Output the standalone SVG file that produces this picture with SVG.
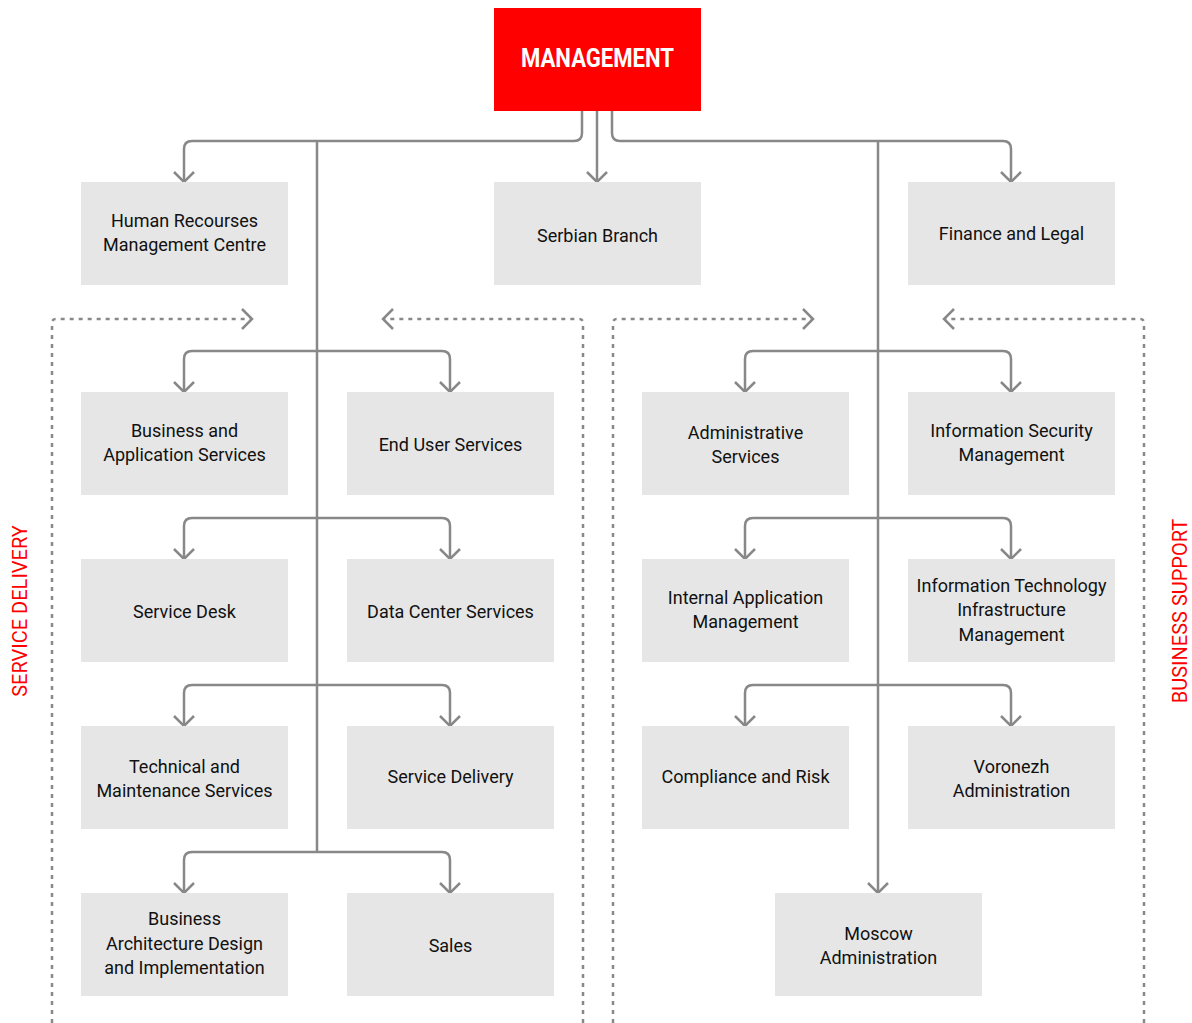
<svg xmlns="http://www.w3.org/2000/svg" width="1192" height="1023" viewBox="0 0 1192 1023">
<defs>
<style>
.box{fill:#e6e6e6}
.t{font-family:Roboto,"Liberation Sans",sans-serif;font-size:18px;fill:#111;text-anchor:middle}
.c{fill:none;stroke:#888;stroke-width:2.5;stroke-linejoin:round}
.d{fill:none;stroke:#888;stroke-width:2.5;stroke-dasharray:4 5}
.side{font-family:Roboto,"Liberation Sans",sans-serif;font-size:20px;fill:#ff0000;text-anchor:middle}
</style>
</defs>
<rect width="1192" height="1023" fill="#fff"/>
<g id="connectors">
<path class="c" d="M582,111 V133 Q582,141 574,141 H192 Q184,141 184,149 V181"/>
<path class="c" d="M597,111 V181"/>
<path class="c" d="M612,111 V133 Q612,141 620,141 H1003 Q1011,141 1011,149 V181"/>
<path class="c" d="M317,141 V852"/>
<path class="c" d="M878,141 V892"/>
<path class="c" d="M184,391 V359 Q184,351 192,351 H442 Q450,351 450,359 V391"/>
<path class="c" d="M184,558 V526 Q184,518 192,518 H442 Q450,518 450,526 V558"/>
<path class="c" d="M184,725 V693 Q184,685 192,685 H442 Q450,685 450,693 V725"/>
<path class="c" d="M184,892 V860 Q184,852 192,852 H442 Q450,852 450,860 V892"/>
<path class="c" d="M745,391 V359 Q745,351 753,351 H1003 Q1011,351 1011,359 V391"/>
<path class="c" d="M745,558 V526 Q745,518 753,518 H1003 Q1011,518 1011,526 V558"/>
<path class="c" d="M745,725 V693 Q745,685 753,685 H1003 Q1011,685 1011,693 V725"/>
<g stroke="#888" stroke-width="2.5" fill="none">
<path d="M174,172 L184,182 L194,172"/>
<path d="M587,172 L597,182 L607,172"/>
<path d="M1001,172 L1011,182 L1021,172"/>
<path d="M174,382 L184,392 L194,382"/><path d="M440,382 L450,392 L460,382"/>
<path d="M174,549 L184,559 L194,549"/><path d="M440,549 L450,559 L460,549"/>
<path d="M174,716 L184,726 L194,716"/><path d="M440,716 L450,726 L460,716"/>
<path d="M174,883 L184,893 L194,883"/><path d="M440,883 L450,893 L460,883"/>
<path d="M735,382 L745,392 L755,382"/><path d="M1001,382 L1011,392 L1021,382"/>
<path d="M735,549 L745,559 L755,549"/><path d="M1001,549 L1011,559 L1021,549"/>
<path d="M735,716 L745,726 L755,716"/><path d="M1001,716 L1011,726 L1021,716"/>
<path d="M868,883 L878,893 L888,883"/>
<path d="M242,309 L252,319 L242,329"/>
<path d="M393,309 L383,319 L393,329"/>
<path d="M803,309 L813,319 L803,329"/>
<path d="M954,309 L944,319 L954,329"/>
</g>
<path class="d" d="M52,1023 V323 Q52,319 56,319 H251"/>
<path class="d" d="M583,1023 V323 Q583,319 579,319 H384"/>
<path class="d" d="M613,1023 V323 Q613,319 617,319 H812"/>
<path class="d" d="M1144,1023 V323 Q1144,319 1140,319 H945"/>
</g>
<g id="management"><rect x="494" y="8" width="207" height="103" fill="#ff0000"/><text x="597.5" y="67" font-family="Roboto,'Liberation Sans',sans-serif" font-size="25" font-weight="bold" fill="#fff" text-anchor="middle" textLength="153" lengthAdjust="spacingAndGlyphs">MANAGEMENT</text></g>
<g id="hr"><rect class="box" x="81" y="182" width="207" height="103"/><text class="t" x="184.5" y="226.5">Human Recourses</text><text class="t" x="184.5" y="250.5">Management Centre</text></g>
<g id="serbian"><rect class="box" x="494" y="182" width="207" height="103"/><text class="t" x="597.5" y="241.5">Serbian Branch</text></g>
<g id="finance"><rect class="box" x="908" y="182" width="207" height="103"/><text class="t" x="1011.5" y="239.5">Finance and Legal</text></g>
<g id="bas"><rect class="box" x="81" y="392" width="207" height="103"/><text class="t" x="184.5" y="436.5">Business and</text><text class="t" x="184.5" y="460.5">Application Services</text></g>
<g id="eus"><rect class="box" x="347" y="392" width="207" height="103"/><text class="t" x="450.5" y="450.5">End User Services</text></g>
<g id="sd"><rect class="box" x="81" y="559" width="207" height="103"/><text class="t" x="184.5" y="617.5">Service Desk</text></g>
<g id="dcs"><rect class="box" x="347" y="559" width="207" height="103"/><text class="t" x="450.5" y="617.5">Data Center Services</text></g>
<g id="tms"><rect class="box" x="81" y="726" width="207" height="103"/><text class="t" x="184.5" y="772.5">Technical and</text><text class="t" x="184.5" y="796.5">Maintenance Services</text></g>
<g id="sdel"><rect class="box" x="347" y="726" width="207" height="103"/><text class="t" x="450.5" y="782.5">Service Delivery</text></g>
<g id="bad"><rect class="box" x="81" y="893" width="207" height="103"/><text class="t" x="184.5" y="925">Business</text><text class="t" x="184.5" y="949.5">Architecture Design</text><text class="t" x="184.5" y="974">and Implementation</text></g>
<g id="sales"><rect class="box" x="347" y="893" width="207" height="103"/><text class="t" x="450.5" y="951.5">Sales</text></g>
<g id="adm"><rect class="box" x="642" y="392" width="207" height="103"/><text class="t" x="745.5" y="438.5">Administrative</text><text class="t" x="745.5" y="462.5">Services</text></g>
<g id="ism"><rect class="box" x="908" y="392" width="207" height="103"/><text class="t" x="1011.5" y="436.5">Information Security</text><text class="t" x="1011.5" y="460.5">Management</text></g>
<g id="iam"><rect class="box" x="642" y="559" width="207" height="103"/><text class="t" x="745.5" y="603.5">Internal Application</text><text class="t" x="745.5" y="627.5">Management</text></g>
<g id="itim"><rect class="box" x="908" y="559" width="207" height="103"/><text class="t" x="1011.5" y="591.5">Information Technology</text><text class="t" x="1011.5" y="615.5">Infrastructure</text><text class="t" x="1011.5" y="640.5">Management</text></g>
<g id="car"><rect class="box" x="642" y="726" width="207" height="103"/><text class="t" x="745.5" y="782.5">Compliance and Risk</text></g>
<g id="va"><rect class="box" x="908" y="726" width="207" height="103"/><text class="t" x="1011.5" y="772.5">Voronezh</text><text class="t" x="1011.5" y="796.5">Administration</text></g>
<g id="ma"><rect class="box" x="775" y="893" width="207" height="103"/><text class="t" x="878.5" y="939.5">Moscow</text><text class="t" x="878.5" y="963.5">Administration</text></g>
<text class="side" transform="translate(27,611) rotate(-90)">SERVICE DELIVERY</text>
<text class="side" transform="translate(1187,611) rotate(-90)">BUSINESS SUPPORT</text>
</svg>
